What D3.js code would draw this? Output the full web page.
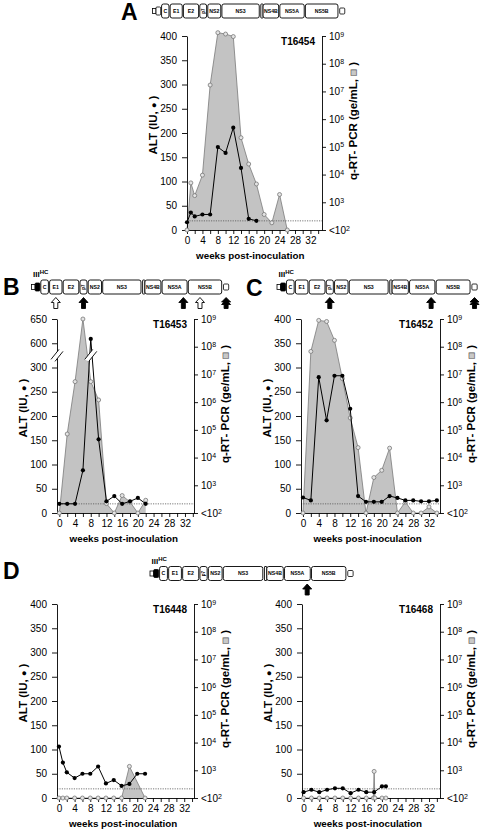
<!DOCTYPE html>
<html><head><meta charset="utf-8">
<script src="https://cdn.jsdelivr.net/npm/d3@7"></script>
<style>
body{margin:0;background:#fff}
svg{display:block}
text{font-family:"Liberation Sans",Arial,Helvetica,sans-serif}
</style>
</head><body>
<svg id="c" width="481" height="834"></svg>
<script>
// ---------------- DATA ----------------
// q-RT-PCR values are given as log10(ge/mL); 2 means "<10^2" (undetectable)
const cutoffLog = 2.33;

// Panel A – T16454
const aRnaWeeks = [0,1,2,4,6,8,10,12,14,16,18,20,22,24,26];
const aRnaLog   = [2,3.70,3.24,3.98,7.23,9.12,9.07,8.98,5.33,4.38,3.66,2.56,2.26,3.28,2];
const aAltWeeks = [0,1,2,4,6,8,10,12,14,16,18];
const aAlt      = [16,36,28,32,32,171,159,211,128,23,19];

// Panel B – T16453
const bRnaWeeks = [0,2,4,6,8,10,12,14,16,18,20,22];
const bRnaLog   = [2,4.85,6.74,9.0,6.74,6.08,2.34,2,2.63,2.4,2,2.46];
const bAltWeeks = [0,2,4,6,8,10,12,14,16,18,20,22];
const bAlt      = [19,19,19,88,609,152,24,35,19,24,31,19];

// Panel C – T16452
const cRnaWeeks = [0,2,4,6,8,10,12,14,16,18,20,22,24,26,28,30,32,34];
const cRnaLog   = [2,7.83,8.95,8.91,8.23,6.85,5.43,4.36,2,3.28,3.54,4.34,2,2.4,2,2,2.22,2];
const cAltWeeks = [0,2,4,6,8,10,12,14,16,18,20,22,24,26,28,30,32,34];
const cAlt      = [32,26,280,191,283,283,215,35,23,23,23,35,31,26,26,24,24,26];

// Panel D left – T16448
const dRnaWeeks = [0,1,2,4,6,8,10,12,14,16,18,22];
const dRnaLog   = [2,2,2,2,2,2,2,2,2,2,3.14,2];
const dAltWeeks = [0,1,2,4,6,8,10,12,14,16,18,20,22];
const dAlt      = [106,73,53,41,50,50,65,30,37,25,29,50,50];

// Panel D right – T16468
const eRnaWeeks = [0,2,4,6,8,10,12,14,16,17.8,18,18.2,20,21];
const eRnaLog   = [2,2,2,2,2,2,2,2,2,2,2.96,2,2,2];
const eAltWeeks = [0,2,4,6,8,10,12,14,16,18,20,21];
const eAlt      = [12,17,12,17,20,20,10,17,12,12,24,24];

// Axis ticks
const altTicks = [0,50,100,150,200,250,300,350,400];
const altTicksBroken = [0,50,100,150,200,250,300,600,650];
const rnaTicks = [2,3,4,5,6,7,8,9];
const weekTicks = d3.range(0,35,2);

// Genome map
const genes = ["C","E1","E2","p7","NS2","NS3","NS4A","NS4B","NS5A","NS5B"];
const geneLengths = [7.6,12.4,15.6,7,13.3,38.3,2.3,16,25,33.4];
const mutB = [{gene:"E1",f:0.5,type:"open"},{gene:"p7",f:0.5,type:"filled"},{gene:"NS5A",f:0.85,type:"filled"},{gene:"NS5B",f:0.35,type:"open"},{gene:"UTR3",f:0.5,type:"double"}];
const mutC = [{gene:"p7",f:0.5,type:"filled"},{gene:"NS5A",f:0.85,type:"filled"},{gene:"UTR3",f:0.5,type:"double"}];
const mutD = [{gene:"NS5A",f:0.88,type:"filled"}];

// ---------------- DRAW ----------------
const svg = d3.select("#c");

function drawPanel(p){
  const g = svg.append("g");
  const x = d3.scaleLinear().domain(p.dom).range([p.x0,p.x1]);
  const h = p.y1 - p.y0;
  const yL = p.broken
    ? d3.scaleLinear().domain([0,300,600,650]).range([p.y1, p.y1-h*300/400, p.y1-h*350/400, p.y0])
    : d3.scaleLinear().domain([0,400]).range([p.y1,p.y0]);
  const yR = d3.scaleLog().domain([1e2,1e9]).range([p.y1,p.y0]);

  const rna = p.rw.map((w,i)=>({w, v:Math.pow(10,p.rl[i])}));
  const alt = p.aw.map((w,i)=>({w, v:p.av[i]}));

  g.append("path").datum(rna)
    .attr("d", d3.area().x(d=>x(d.w)).y0(p.y1).y1(d=>yR(d.v)))
    .attr("fill","#c3c3c3");
  g.append("path").datum(rna)
    .attr("d", d3.line().x(d=>x(d.w)).y(d=>yR(d.v)))
    .attr("fill","none").attr("stroke","#7a7a7a").attr("stroke-width",0.8);

  const yc = yR(Math.pow(10,cutoffLog));
  g.append("line").attr("x1",p.x0).attr("x2",p.x1).attr("y1",yc).attr("y2",yc)
    .attr("stroke","#555").attr("stroke-width",0.8).attr("stroke-dasharray","1.2,1.2");

  // axes
  const ax = g.append("g").attr("transform",`translate(0,${p.y1})`)
    .call(d3.axisBottom(x).tickValues(weekTicks).tickFormat(d=>d%4===0?d:"").tickSize(4).tickPadding(3).tickSizeOuter(0));
  const ay = g.append("g").attr("transform",`translate(${p.x0},0)`)
    .call(d3.axisLeft(yL).tickValues(p.broken?altTicksBroken:altTicks).tickSize(5).tickPadding(5).tickSizeOuter(0));
  const ar = g.append("g").attr("transform",`translate(${p.x1},0)`)
    .call(d3.axisRight(yR).tickValues(rnaTicks.map(e=>Math.pow(10,e))).tickSize(4).tickPadding(3).tickSizeOuter(0));
  ar.selectAll(".tick text").each(function(d){
    const e = Math.round(Math.log10(d));
    const t = d3.select(this); t.text(null);
    t.append("tspan").text(e===2?"<10":"10");
    t.append("tspan").attr("dy","-0.45em").attr("font-size","7px").text(e);
  });
  [ax,ay,ar].forEach(a=>{
    a.attr("font-family",null).attr("font-size",null);
    a.selectAll("text").attr("font-size","10px").attr("fill","#000");
    a.selectAll("line,path").attr("stroke","#000").attr("stroke-width",0.9);
  });

  // broken axis marks
  function brk(cx,cy){
    const b = g.append("g");
    b.append("path").attr("d",`M${cx-6},${cy+4}L${cx+2},${cy-6}L${cx+6},${cy-4}L${cx-2},${cy+6}Z`).attr("fill","#fff");
    b.append("line").attr("x1",cx-6).attr("y1",cy+4).attr("x2",cx+2).attr("y2",cy-6).attr("stroke","#000").attr("stroke-width",0.9);
    b.append("line").attr("x1",cx-2).attr("y1",cy+6).attr("x2",cx+6).attr("y2",cy-4).attr("stroke","#000").attr("stroke-width",0.9);
  }

  // gray points
  g.selectAll(".rp").data(rna).join("circle")
    .attr("cx",d=>x(d.w)).attr("cy",d=>yR(d.v)).attr("r",2)
    .attr("fill","#e4e4e4").attr("stroke","#777").attr("stroke-width",0.8);

  // ALT line and points
  g.append("path").datum(alt)
    .attr("d", d3.line().x(d=>x(d.w)).y(d=>yL(d.v)))
    .attr("fill","none").attr("stroke","#000").attr("stroke-width",1);
  g.selectAll(".ap").data(alt).join("circle")
    .attr("cx",d=>x(d.w)).attr("cy",d=>yL(d.v)).attr("r",2.1).attr("fill","#000");

  if(p.broken){
    const ym = (yL(300)+yL(600))/2;
    brk(p.x0, ym);
    for(let i=1;i<alt.length;i++){
      const a=alt[i-1], c=alt[i];
      if(a.v<=300 && c.v>=600){
        const ya=yL(a.v), yb=yL(c.v), t=(ya-ym)/(ya-yb);
        brk(x(a.w)+t*(x(c.w)-x(a.w))+1, ym);
      }
    }
  }

  // texts
  g.append("text").attr("x",p.x1-7).attr("y",p.y0+9).attr("text-anchor","end")
    .attr("font-size","10px").attr("font-weight","bold").text(p.name);
  g.append("text").attr("x",x(16.4)).attr("y",p.y1+29).attr("text-anchor","middle")
    .attr("font-size","9.8px").attr("font-weight","bold").text("weeks post-inoculation");
  const lt = g.append("text").attr("transform",`translate(${p.x0-30},${(p.y0+p.y1)/2-8}) rotate(-90)`)
    .attr("text-anchor","middle").attr("font-size","11.5px").attr("font-weight","bold");
  lt.append("tspan").text("ALT (IU, ");
  lt.append("tspan").attr("font-size","9px").text("●");
  lt.append("tspan").text(" )");
  const rt = g.append("text").attr("transform",`translate(${p.x1+35},${(p.y0+p.y1)/2-12}) rotate(-90)`)
    .attr("text-anchor","middle").attr("font-size","11.5px").attr("font-weight","bold");
  rt.append("tspan").text("q-RT- PCR (ge/mL, ");
  rt.append("tspan").attr("fill","#c8c8c8").attr("stroke","#555").attr("stroke-width",0.6).text("■");
  rt.append("tspan").text(" )");
}

function drawGenome(gx, gy, s, fill5, hc, muts){
  const g = svg.append("g");
  const H = 14;
  const pos = {};
  let cur = 9.3;
  genes.forEach((n,i)=>{
    const w = geneLengths[i];
    pos[n] = [cur, cur+w];
    cur += w + (n==="NS4A" ? 0 : (n==="NS3"?1.6:1.2));
  });
  pos.UTR3 = [cur+0.6, cur+5.8];
  const X = v => gx + s*v;

  g.append("rect").attr("x",X(0)).attr("y",gy+4.5).attr("width",s*3.6).attr("height",5)
    .attr("fill","#fff").attr("stroke","#000").attr("stroke-width",0.8);
  g.append("rect").attr("x",X(3.6)).attr("y",gy+3).attr("width",s*4.8).attr("height",8).attr("rx",1)
    .attr("fill",fill5?"#000":"#fff").attr("stroke","#000").attr("stroke-width",0.8);
  g.append("rect").attr("x",X(pos.UTR3[0])).attr("y",gy+4).attr("width",s*(pos.UTR3[1]-pos.UTR3[0])).attr("height",6).attr("rx",1)
    .attr("fill","#fff").attr("stroke","#000").attr("stroke-width",0.8);

  genes.forEach(n=>{
    const [a,b] = pos[n];
    g.append("rect").attr("x",X(a)).attr("y",gy).attr("width",s*(b-a)).attr("height",H)
      .attr("rx",n==="NS4A"?0.5:2).attr("fill","#fff").attr("stroke","#000").attr("stroke-width",0.9);
    if(n==="NS4A") return;
    const cx = X((a+b)/2), cy = gy+H/2;
    if(n==="p7"){
      g.append("text").attr("transform",`translate(${cx+1.6},${cy}) rotate(-90)`).attr("text-anchor","middle")
        .attr("font-size","4.6px").attr("font-weight","bold").text(n);
    } else {
      g.append("text").attr("x",cx).attr("y",cy+1.8).attr("text-anchor","middle")
        .attr("font-size","5.2px").attr("font-weight","bold").text(n);
    }
  });

  if(hc){
    const t = g.append("text").attr("x",X(1.5)).attr("y",gy-3).attr("font-size","8px").attr("font-weight","bold");
    t.append("tspan").text("III");
    t.append("tspan").attr("dy","-3").attr("font-size","6px").text("HC");
  }

  muts.forEach(m=>{
    const [a,b] = pos[m.gene];
    const px = X(a + m.f*(b-a));
    const t = gy + H + 3.5;
    let d;
    if(m.type==="double"){
      d = `M${px},${t}L${px+4.5},${t+4.5}L${px+2},${t+4.5}L${px+4.5},${t+7}L${px+2},${t+7}L${px+2},${t+11}L${px-2},${t+11}L${px-2},${t+7}L${px-4.5},${t+7}L${px-2},${t+4.5}L${px-4.5},${t+4.5}Z`;
    } else {
      d = `M${px},${t}L${px+4.5},${t+5}L${px+2},${t+5}L${px+2},${t+11}L${px-2},${t+11}L${px-2},${t+5}L${px-4.5},${t+5}Z`;
    }
    g.append("path").attr("d",d).attr("fill",m.type==="open"?"#fff":"#000")
      .attr("stroke","#000").attr("stroke-width",0.9).attr("stroke-linejoin","miter");
  });
}

function letter(t,x,y){
  svg.append("text").attr("x",x).attr("y",y).attr("font-size","23px").attr("font-weight","bold").text(t);
}

drawPanel({x0:187,x1:322,y0:36,y1:230,dom:[0,35],name:"T16454",rw:aRnaWeeks,rl:aRnaLog,aw:aAltWeeks,av:aAlt});
drawPanel({x0:57,x1:194,y0:319,y1:513,dom:[-0.6,34.3],broken:true,name:"T16453",rw:bRnaWeeks,rl:bRnaLog,aw:bAltWeeks,av:bAlt});
drawPanel({x0:301,x1:440,y0:319,y1:513,dom:[-0.5,34.8],name:"T16452",rw:cRnaWeeks,rl:cRnaLog,aw:cAltWeeks,av:cAlt});
drawPanel({x0:57,x1:194,y0:604,y1:798,dom:[-0.5,34.5],name:"T16448",rw:dRnaWeeks,rl:dRnaLog,aw:dAltWeeks,av:dAlt});
drawPanel({x0:302,x1:440,y0:604,y1:798,dom:[-0.4,34.8],name:"T16468",rw:eRnaWeeks,rl:eRnaLog,aw:eAltWeeks,av:eAlt});

drawGenome(152.5, 4, 0.975, false, false, []);
drawGenome(31.5, 280, 1.0, true, true, mutB);
drawGenome(277, 280, 1.015, true, true, mutC);
drawGenome(150, 566.5, 1.03, true, true, mutD);

letter("A",121,20);
letter("B",3,295);
letter("C",246,296);
letter("D",3,579);
</script>
</body></html>
